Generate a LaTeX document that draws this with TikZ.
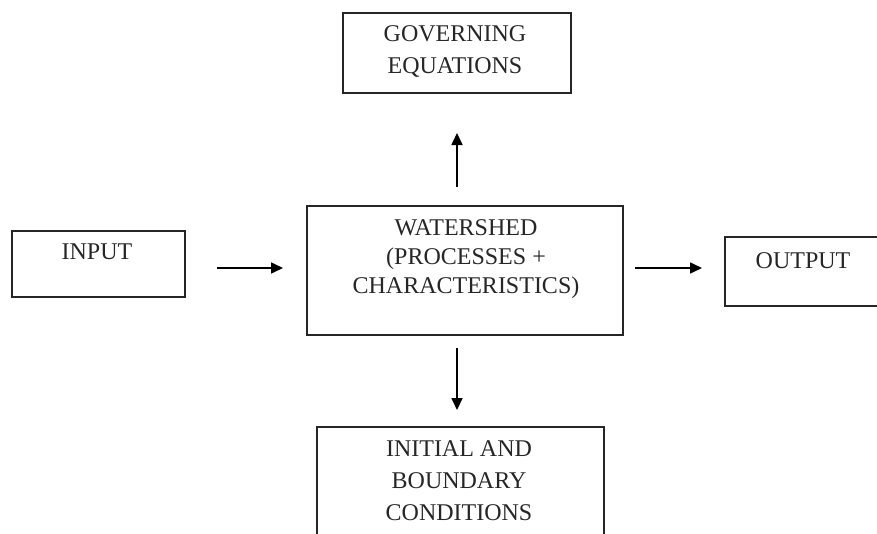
\documentclass[tikz,border=0pt]{standalone}
\usepackage{fontspec}
\setmainfont{Liberation Serif}
\usetikzlibrary{arrows.meta}
\begin{document}
\begin{tikzpicture}[x=1pt,y=-1pt,
  box/.style={draw=black!85, line width=1.3pt, inner sep=0pt, outer sep=0pt},
  txt/.style={font=\fontsize{24}{32}\selectfont, align=center, inner sep=0pt, anchor=north, text=black!85},
  arr/.style={line width=1.7pt, -{Triangle[length=12pt,width=11pt]}}]
\useasboundingbox (0,0) rectangle (877,533);
\clip (0,0) rectangle (877,533);
% boxes
\node[box, minimum width=228pt, minimum height=80pt] (gov) at (457,53) {};
\node[box, minimum width=173pt, minimum height=66pt] (in) at (98.5,264) {};
\node[box, minimum width=316pt, minimum height=129pt] (ws) at (465,270.5) {};
\node[box, minimum width=175pt, minimum height=69pt] (out) at (812.5,271.5) {};
\node[box, minimum width=287pt, minimum height=133pt] (ib) at (460.5,493.5) {};
% texts
\node[txt] (govt) at (455,25) {GOVERNING\\EQUATIONS};
\node[txt] (int) at (97,244) {INPUT};
\node[txt, font=\fontsize{24}{29}\selectfont] (wst) at (466,219) {WATERSHED\\(PROCESSES +\\CHARACTERISTICS)};
\node[txt] (outt) at (803,252) {OUTPUT};
\node[txt] (ibt) at (459,440) {INITIAL AND\\BOUNDARY\\CONDITIONS};
% connectors
\draw[arr, shorten <=19pt, shorten >=40pt] (gov.south |- ws.north) -- (gov.south);
\draw[arr, shorten <=13pt, shorten >=17pt] (gov.south |- ws.south) -- (gov.south |- ib.north);
\draw[arr, shorten <=32pt, shorten >=24pt] ([yshift=-4pt]in.east) -- ([yshift=2.5pt]ws.west);
\draw[arr, shorten <=12pt, shorten >=23pt] ([yshift=2.5pt]ws.east) -- ([yshift=3.5pt]out.west);
\end{tikzpicture}
\end{document}
